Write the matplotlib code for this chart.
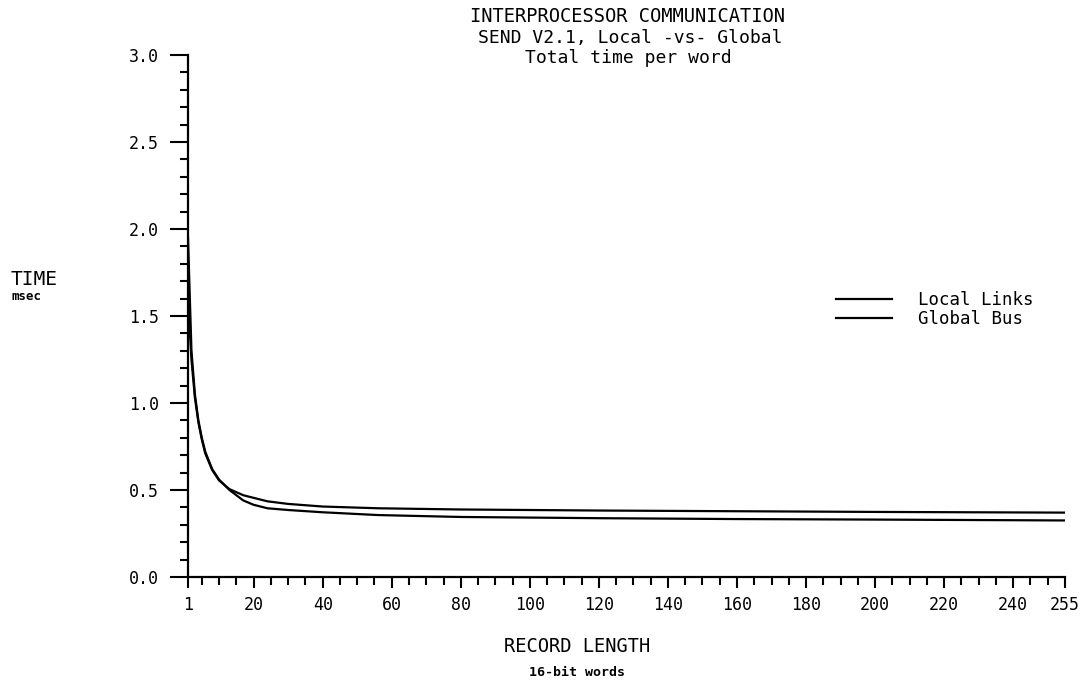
import numpy as np
import matplotlib as mpl
import matplotlib.pyplot as plt
from matplotlib.ticker import FixedLocator, MultipleLocator

mpl.rcParams.update({
    "font.family": ["DejaVu Sans Mono", "DejaVu Sans"],
    "axes.linewidth": 1.6,
    "xtick.major.width": 1.5,
    "ytick.major.width": 1.5,
    "xtick.minor.width": 1.5,
    "ytick.minor.width": 1.5,
})

n_local = [1, 2, 3, 4, 5, 6, 8, 10, 13, 17, 20, 24, 30, 40, 56, 80, 120, 160, 200, 255]
t_local = [1.95, 1.30, 1.05, 0.90, 0.80, 0.72, 0.62, 0.56, 0.50, 0.44, 0.415, 0.395,
           0.385, 0.372, 0.356, 0.345, 0.338, 0.333, 0.330, 0.325]
n_global = [1, 2, 3, 4, 5, 6, 8, 10, 13, 17, 20, 24, 30, 40, 56, 80, 120, 160, 200, 255]
t_global = [1.60, 1.25, 1.03, 0.89, 0.79, 0.71, 0.615, 0.555, 0.505, 0.47, 0.455, 0.435,
            0.42, 0.405, 0.395, 0.388, 0.382, 0.378, 0.374, 0.370]

x_labels = [1, 20, 40, 60, 80, 100, 120, 140, 160, 180, 200, 220, 240, 255]
y_labels = [0.0, 0.5, 1.0, 1.5, 2.0, 2.5, 3.0]

fig = plt.figure(figsize=(10.9, 6.84), dpi=100)
ax = fig.add_axes([188 / 1090, 1 - 577 / 684, 877 / 1090, 522 / 684])

ax.plot(n_local, t_local, color="k", lw=1.6, label="Local Links")
ax.plot(n_global, t_global, color="k", lw=1.6, label="Global Bus")

ax.set_xlim(1, 255)
ax.set_ylim(0, 3.0)
for s in ("top", "right"):
    ax.spines[s].set_visible(False)

ax.xaxis.set_major_locator(FixedLocator(x_labels))
ax.set_xticklabels([str(v) for v in x_labels], fontsize=12)
ax.xaxis.set_minor_locator(FixedLocator([v for v in range(5, 255, 5)]))
ax.tick_params(axis="x", which="major", length=8, pad=6, direction="out")
ax.tick_params(axis="x", which="minor", length=6, direction="out")

ax.yaxis.set_major_locator(FixedLocator(y_labels))
ax.set_yticklabels([f"{v:.1f}" for v in y_labels], fontsize=12)
ax.yaxis.set_minor_locator(MultipleLocator(0.1))
ax.tick_params(axis="y", which="major", length=13, pad=8, direction="out")
ax.tick_params(axis="y", which="minor", length=6, direction="out")

ax.legend(loc="center left", bbox_to_anchor=(0.739, 0.513), frameon=False,
          fontsize=12.5, handlelength=3.2, handletextpad=1.5, labelspacing=0.05,
          borderaxespad=0, borderpad=0)

fig.text(627 / 1090, 1 - 17 / 684, "INTERPROCESSOR COMMUNICATION", ha="center",
         va="center", fontsize=13.5)
fig.text(630 / 1090, 1 - 38 / 684, "SEND V2.1, Local -vs- Global", ha="center",
         va="center", fontsize=13)
fig.text(628 / 1090, 1 - 58 / 684, "Total time per word", ha="center",
         va="center", fontsize=13)
fig.text(34 / 1090, 1 - 279 / 684, "TIME", ha="center", va="center", fontsize=14)
fig.text(27 / 1090, 1 - 297 / 684, "msec", ha="center", va="center", fontsize=9,
         fontweight="bold")
fig.text(577 / 1090, 1 - 647 / 684, "RECORD LENGTH", ha="center", va="center",
         fontsize=13.5)
fig.text(577 / 1090, 1 - 672 / 684, "16-bit words", ha="center", va="center",
         fontsize=9.5, fontweight="bold")

fig.savefig("out.png", dpi=100)
